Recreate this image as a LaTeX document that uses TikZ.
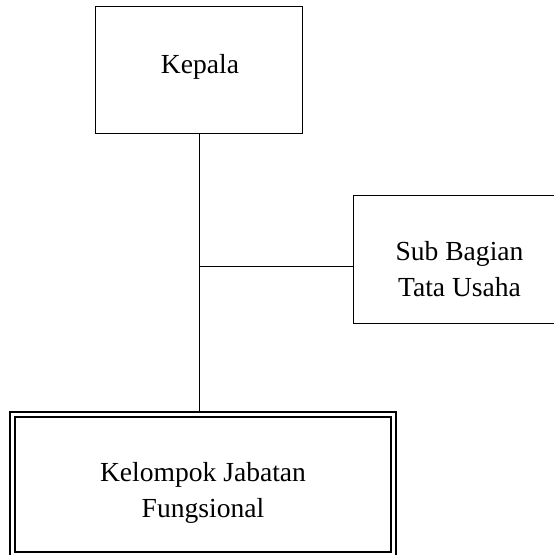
\documentclass[tikz,border=0pt]{standalone}
\usepackage{fontspec}
\setmainfont{Liberation Serif}
\usetikzlibrary{calc}
\newcommand\pxu[0]{0.025cm}

\begin{document}
\begin{tikzpicture}[x=0.025cm,y=-0.025cm,
  unitbox/.style={draw=black,line width=0.7pt,inner sep=0pt},
  unitlabel/.style={align=center,inner sep=0pt,font=\fontsize{19.6}{25.5}\selectfont}]

\useasboundingbox (0,0) rectangle (554,555);
\clip (0,0) rectangle (554,555);

\node[unitbox,minimum width=207*\pxu,minimum height=127*\pxu] (kepala) at (198.5,69.5) {};
\node[unitbox,minimum width=212*\pxu,minimum height=128*\pxu] (sub) at (459,259) {};
\node[draw=black,line width=2*\pxu,double=white,double distance=3*\pxu,inner sep=0pt,
  minimum width=381*\pxu,minimum height=140.5*\pxu] (kelompok) at (202.5,484.25) {};

\node[unitlabel] (kepalaText) at (200,67) {Kepala};
\node[unitlabel] (subText) at (459.5,269) {Sub Bagian\\Tata Usaha};
\node[unitlabel] (kelompokText) at (203,492.5) {Kelompok Jabatan\\Fungsional};

\coordinate (junction) at (199,266);

\draw[black,line width=0.7pt] (kepala.south -| junction) -- (kelompok.north -| junction);
\draw[black,line width=0.7pt] (junction) -- (junction -| sub.west);

\end{tikzpicture}
\end{document}
